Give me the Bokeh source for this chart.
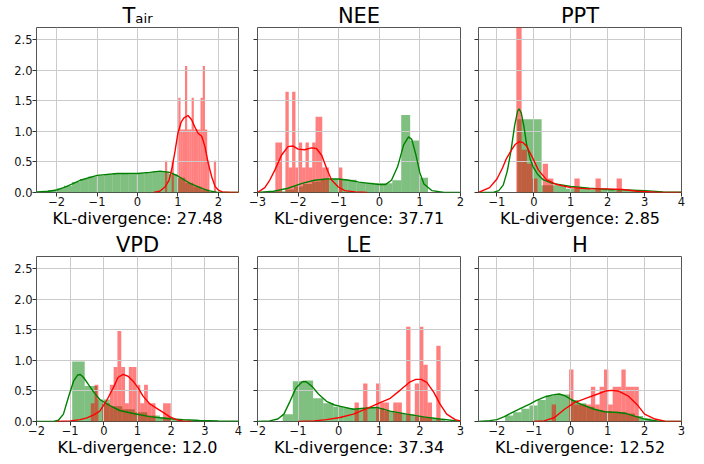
import numpy as np
from bokeh.plotting import figure
from bokeh.layouts import column, row
from bokeh.models import Range1d, FixedTicker
from bokeh.embed import file_html
from bokeh.resources import INLINE

# ------------------------------------------------------------------ data
panel_titles = ["T\u2090\u1d62\u1d63", "NEE", "PPT", "VPD", "LE", "H"]
kl_values = ["27.48", "37.71", "2.85", "12.0", "37.34", "12.52"]

y_max = 2.7
ytick_values = [0.0, 0.5, 1.0, 1.5, 2.0, 2.5]
ytick_labels = ["0.0", "0.5", "1.0", "1.5", "2.0", "2.5"]

# x ranges and ticks
tair_xrange = (-2.5, 2.5)
tair_xticks = [-2, -1, 0, 1, 2]
tair_xlabels = ["\u22122", "\u22121", "0", "1", "2"]
nee_xrange = (-3.0, 2.0)
nee_xticks = [-3, -2, -1, 0, 1, 2]
nee_xlabels = ["\u22123", "\u22122", "\u22121", "0", "1", "2"]
ppt_xrange = (-1.5, 4.0)
ppt_xticks = [-1, 0, 1, 2, 3, 4]
ppt_xlabels = ["\u22121", "0", "1", "2", "3", "4"]
vpd_xrange = (-2.0, 4.0)
vpd_xticks = [-2, -1, 0, 1, 2, 3, 4]
vpd_xlabels = ["\u22122", "\u22121", "0", "1", "2", "3", "4"]
le_xrange = (-2.0, 3.0)
le_xticks = [-2, -1, 0, 1, 2, 3]
le_xlabels = ["\u22122", "\u22121", "0", "1", "2", "3"]
h_xrange = (-2.5, 3.0)
h_xticks = [-2, -1, 0, 1, 2, 3]
h_xlabels = ["\u22122", "\u22121", "0", "1", "2", "3"]

# --- T_air
tair_green_start, tair_green_width = -2.42, 0.2
tair_green_h = [0.02, 0.04, 0.07, 0.11, 0.17, 0.22, 0.26, 0.28, 0.29, 0.31, 0.31,
                0.30, 0.31, 0.33, 0.35, 0.34, 0.30, 0.24, 0.16, 0.10, 0.05]
tair_green_kde_x = [-2.5, -2.2, -2.0, -1.75, -1.42, -1.0, -0.5, 0.0, 0.3, 0.56, 0.8,
                    1.0, 1.3, 1.55, 1.75, 1.96, 2.2, 2.5]
tair_green_kde_y = [0.01, 0.02, 0.04, 0.10, 0.20, 0.28, 0.31, 0.31, 0.33, 0.35, 0.33,
                    0.27, 0.15, 0.08, 0.03, 0.005, 0.0, 0.0]
tair_red_start, tair_red_width = 0.68, 0.055
tair_red_h = [0.52, 0, 0, 0.52, 0, 0, 1.55, 1.03, 1.03, 2.07, 1.03, 1.03, 1.55, 1.03,
              1.03, 1.03, 1.55, 2.07, 1.03, 0.52, 0, 0, 0.52]
tair_red_kde_x = [0.4, 0.55, 0.68, 0.78, 0.86, 0.93, 1.0, 1.08, 1.15, 1.25, 1.34, 1.42,
                  1.5, 1.59, 1.67, 1.75, 1.84, 1.92, 2.0, 2.1, 2.3, 2.5]
tair_red_kde_y = [0.0, 0.02, 0.09, 0.2, 0.42, 0.68, 0.97, 1.15, 1.22, 1.26, 1.19, 1.07,
                  0.97, 0.92, 0.75, 0.48, 0.25, 0.1, 0.04, 0.01, 0.0, 0.0]

# --- NEE
nee_green_start, nee_green_width = -2.54, 0.22
nee_green_h = [0.02, 0.05, 0.10, 0.14, 0.18, 0.21, 0.22, 0.22, 0.21, 0.16, 0.16, 0.15,
               0.15, 0.20, 1.27, 0.85, 0.24]
nee_green_kde_x = [-3.0, -2.6, -2.25, -1.9, -1.6, -1.3, -1.0, -0.75, -0.5, -0.25, 0.0,
                   0.15, 0.3, 0.45, 0.6, 0.72, 0.8, 0.9, 1.0, 1.1, 1.3, 1.6, 2.0]
nee_green_kde_y = [0.0, 0.02, 0.07, 0.15, 0.2, 0.22, 0.22, 0.2, 0.17, 0.15, 0.13,
                   0.13, 0.2, 0.42, 0.78, 0.91, 0.87, 0.62, 0.32, 0.14, 0.03, 0.0, 0.0]
nee_red_start, nee_red_width = -2.56, 0.0825
nee_red_h = [0.82, 0.82, 0, 1.65, 0.41, 1.65, 0.41, 0.82, 0.41, 0.82, 0.41, 0.82, 1.24,
             1.24, 0.41, 0.41, 0, 0, 0, 0.41]
nee_red_kde_x = [-3.0, -2.82, -2.7, -2.57, -2.41, -2.25, -2.12, -2.0, -1.84, -1.67,
                 -1.55, -1.42, -1.3, -1.18, -1.01, -0.85, -0.6, -0.3]
nee_red_kde_y = [0.0, 0.08, 0.2, 0.37, 0.61, 0.75, 0.76, 0.71, 0.7, 0.73, 0.72, 0.61,
                 0.4, 0.21, 0.09, 0.03, 0.01, 0.0]

# --- PPT
ppt_green_start, ppt_green_width = -0.45, 0.66
ppt_green_h = [1.2, 0.12, 0.06, 0.04, 0.03, 0.01, 0.01]
ppt_green_kde_x = [-1.5, -1.1, -0.95, -0.83, -0.72, -0.62, -0.52, -0.44, -0.4, -0.34,
                   -0.27, -0.2, -0.1, -0.02, 0.1, 0.25, 0.5, 1.0, 1.5, 2.0, 2.5, 3.0,
                   3.5, 4.0]
ppt_green_kde_y = [0.0, 0.0, 0.03, 0.12, 0.35, 0.68, 1.1, 1.33, 1.37, 1.3, 1.08, 0.8,
                   0.55, 0.42, 0.3, 0.21, 0.15, 0.1, 0.07, 0.05, 0.04, 0.03, 0.01, 0.005]
ppt_red_start, ppt_red_width = -0.475, 0.143
ppt_red_h = [4.2, 0.7, 0.47, 0.23, 0, 0.47, 0.23, 0, 0, 0, 0, 0.23, 0, 0, 0, 0.23, 0,
             0, 0, 0.23]
ppt_red_kde_x = [-1.5, -1.2, -1.0, -0.85, -0.74, -0.6, -0.5, -0.4, -0.3, -0.2, -0.06,
                 0.12, 0.34, 0.62, 1.0, 1.5, 2.0, 2.4, 2.8, 3.3, 4.0]
ppt_red_kde_y = [0.0, 0.08, 0.22, 0.4, 0.56, 0.7, 0.79, 0.83, 0.82, 0.76, 0.6, 0.37,
                 0.21, 0.13, 0.08, 0.06, 0.06, 0.05, 0.02, 0.005, 0.0]

# --- VPD
vpd_green_start, vpd_green_width = -0.94, 0.372
vpd_green_h = [0.98, 0.58, 0.36, 0.25, 0.2, 0.15, 0.1, 0.07, 0.04, 0.03, 0.02]
vpd_green_kde_x = [-2.0, -1.5, -1.35, -1.2, -1.05, -0.9, -0.78, -0.7, -0.6, -0.45,
                   -0.3, -0.12, 0.18, 0.47, 0.87, 1.36, 1.86, 2.35, 2.84, 3.4, 4.0]
vpd_green_kde_y = [0.0, 0.0, 0.02, 0.12, 0.4, 0.66, 0.76, 0.77, 0.72, 0.6, 0.48, 0.36,
                   0.26, 0.18, 0.13, 0.08, 0.05, 0.03, 0.016, 0.008, 0.003]
vpd_red_start, vpd_red_width = -0.5, 0.113
vpd_red_h = [0, 0.3, 0.6, 0, 0.3, 0.3, 0.6, 0.89, 1.48, 0.89, 0.3, 0.89, 0.89, 0.6,
             0.3, 0.6, 0.3, 0.3, 0, 0, 0.3, 0.3]
vpd_red_kde_x = [-1.4, -1.0, -0.7, -0.5, -0.3, -0.12, 0.08, 0.28, 0.42, 0.57, 0.72,
                 0.87, 1.02, 1.16, 1.36, 1.56, 1.76, 1.95, 2.15, 2.35, 2.6]
vpd_red_kde_y = [0.0, 0.01, 0.03, 0.06, 0.11, 0.17, 0.34, 0.55, 0.72, 0.77, 0.74, 0.66,
                 0.55, 0.42, 0.29, 0.22, 0.15, 0.08, 0.03, 0.005, 0.0]

# --- LE
le_green_start, le_green_width = -1.38, 0.25
le_green_h = [0.12, 0.66, 0.67, 0.38, 0.3, 0.24, 0.22, 0.2, 0.22, 0.22, 0.17, 0.14,
              0.12, 0.08, 0.06, 0.04]
le_green_kde_x = [-2.0, -1.7, -1.5, -1.35, -1.2, -1.05, -0.9, -0.8, -0.65, -0.5, -0.3,
                  -0.1, 0.1, 0.36, 0.69, 0.94, 1.27, 1.68, 2.09, 2.5, 2.91, 3.0]
le_green_kde_y = [0.0, 0.01, 0.04, 0.12, 0.33, 0.55, 0.65, 0.65, 0.57, 0.45, 0.33,
                  0.27, 0.24, 0.2, 0.22, 0.23, 0.17, 0.12, 0.076, 0.04, 0.01, 0.01]
le_red_start, le_red_width = 0.39, 0.106
le_red_h = [0.31, 0, 0.62, 0, 0, 0.62, 0.31, 0.31, 0, 0.31, 0.31, 0, 1.55, 0, 0.62,
            1.55, 0.93, 0.31, 0, 1.24]
le_red_kde_x = [-1.0, -0.6, -0.3, 0.03, 0.36, 0.69, 1.02, 1.27, 1.51, 1.76, 1.9, 2.03,
                2.17, 2.34, 2.5, 2.66, 2.87, 3.0]
le_red_kde_y = [0.0, 0.01, 0.03, 0.065, 0.12, 0.21, 0.31, 0.38, 0.51, 0.65, 0.69, 0.69,
                0.64, 0.48, 0.28, 0.12, 0.03, 0.01]

# --- H
h_green_start, h_green_width = -1.78, 0.22
h_green_h = [0.1, 0.15, 0.21, 0.26, 0.35, 0.42, 0.44, 0.44, 0.35, 0.3, 0.24, 0.19,
             0.17, 0.16, 0.15, 0.13, 0.09, 0.05]
h_green_kde_x = [-2.5, -2.2, -2.0, -1.8, -1.58, -1.3, -1.1, -0.94, -0.67, -0.45, -0.31,
                 -0.15, 0.01, 0.28, 0.64, 0.92, 1.28, 1.5, 1.73, 2.0, 2.37, 2.7, 3.0]
h_green_kde_y = [0.0, 0.015, 0.03, 0.08, 0.15, 0.23, 0.29, 0.34, 0.41, 0.44, 0.45,
                 0.42, 0.36, 0.28, 0.2, 0.16, 0.147, 0.13, 0.087, 0.04, 0.005, 0.0, 0.0]
h_red_start, h_red_width = -0.517, 0.118
h_red_h = [0.28, 0, 0, 0, 0.85, 0.28, 0.28, 0.28, 0.28, 0.57, 0.28, 0.57, 0.85, 0.28,
           0.57, 0.57, 0.85, 0.57, 0.57, 0.57]
h_red_kde_x = [-1.0, -0.72, -0.44, -0.17, 0.1, 0.46, 0.73, 0.95, 1.1, 1.28, 1.55, 1.82,
               2.0, 2.28, 2.55, 3.0]
h_red_kde_y = [0.0, 0.01, 0.065, 0.2, 0.31, 0.39, 0.45, 0.5, 0.51, 0.5, 0.42, 0.26,
               0.12, 0.04, 0.005, 0.0]

# ------------------------------------------------------------------ assembly
panels = [
    (tair_xrange, tair_xticks, tair_xlabels,
     (tair_green_start, tair_green_width, tair_green_h), (tair_green_kde_x, tair_green_kde_y),
     (tair_red_start, tair_red_width, tair_red_h), (tair_red_kde_x, tair_red_kde_y)),
    (nee_xrange, nee_xticks, nee_xlabels,
     (nee_green_start, nee_green_width, nee_green_h), (nee_green_kde_x, nee_green_kde_y),
     (nee_red_start, nee_red_width, nee_red_h), (nee_red_kde_x, nee_red_kde_y)),
    (ppt_xrange, ppt_xticks, ppt_xlabels,
     (ppt_green_start, ppt_green_width, ppt_green_h), (ppt_green_kde_x, ppt_green_kde_y),
     (ppt_red_start, ppt_red_width, ppt_red_h), (ppt_red_kde_x, ppt_red_kde_y)),
    (vpd_xrange, vpd_xticks, vpd_xlabels,
     (vpd_green_start, vpd_green_width, vpd_green_h), (vpd_green_kde_x, vpd_green_kde_y),
     (vpd_red_start, vpd_red_width, vpd_red_h), (vpd_red_kde_x, vpd_red_kde_y)),
    (le_xrange, le_xticks, le_xlabels,
     (le_green_start, le_green_width, le_green_h), (le_green_kde_x, le_green_kde_y),
     (le_red_start, le_red_width, le_red_h), (le_red_kde_x, le_red_kde_y)),
    (h_xrange, h_xticks, h_xlabels,
     (h_green_start, h_green_width, h_green_h), (h_green_kde_x, h_green_kde_y),
     (h_red_start, h_red_width, h_red_h), (h_red_kde_x, h_red_kde_y)),
]

FONT = "DejaVu Sans"
GREEN = "#008000"
RED = "#ff0000"

col_width = [245, 221, 225]
col_lb = [36, 12, 12]
col_rb = [7, 6, 10]
row_height = [230, 231]
row_tb = [27, 25]
row_bb = [37, 40]


def add_hist(p, spec, color):
    start, width, heights = spec
    h = np.asarray(heights, dtype=float)
    left = start + width * np.arange(len(h))
    keep = h > 0
    r = p.quad(left=left[keep], right=left[keep] + width, bottom=0, top=h[keep],
               fill_color=color, fill_alpha=0.5, line_color=None)
    r.level = "image"


figs = []
for i, (xr, xt, xl, gh, gk, rh, rk) in enumerate(panels):
    c, rw = i % 3, i // 3
    p = figure(width=col_width[c], height=row_height[rw],
               x_range=Range1d(*xr), y_range=Range1d(0, y_max),
               output_backend="svg", toolbar_location=None, tools="",
               min_border_left=col_lb[c], min_border_right=col_rb[c],
               min_border_top=row_tb[rw], min_border_bottom=row_bb[rw])
    p.background_fill_color = "white"
    p.border_fill_color = "white"
    p.outline_line_color = "#555555"
    p.outline_line_width = 1

    p.title.text = panel_titles[i]
    p.title.align = "center"
    p.title.text_font = FONT
    p.title.text_font_size = "21px"
    p.title.text_font_style = "normal"
    p.title.text_color = "#000000"
    p.title.standoff = 0

    p.xaxis.ticker = FixedTicker(ticks=xt)
    p.yaxis.ticker = FixedTicker(ticks=ytick_values)
    p.xgrid.ticker = FixedTicker(ticks=xt)
    p.ygrid.ticker = FixedTicker(ticks=ytick_values)
    p.xaxis.major_label_overrides = {v: s for v, s in zip(xt, xl)}
    if c == 0:
        p.yaxis.major_label_overrides = {v: s for v, s in zip(ytick_values, ytick_labels)}
    else:
        p.yaxis.major_label_overrides = {v: "" for v in ytick_values}
    for ax in (p.xaxis[0], p.yaxis[0]):
        ax.axis_line_color = None
        ax.major_tick_line_color = "#333333"
        ax.major_tick_out = 4
        ax.major_tick_in = 0
        ax.minor_tick_line_color = None
        ax.major_label_standoff = 0
        ax.major_label_text_font = FONT
        ax.major_label_text_font_size = "11.5px"
        ax.major_label_text_color = "#111111"
    p.xaxis.axis_label = "KL-divergence: " + kl_values[i]
    p.xaxis.axis_label_text_font = FONT
    p.xaxis.axis_label_text_font_size = "16px"
    p.xaxis.axis_label_text_font_style = "normal"
    p.xaxis.axis_label_text_color = "#000000"
    p.xaxis.axis_label_standoff = 0
    for g in (p.xgrid[0], p.ygrid[0]):
        g.grid_line_color = "#cbcbcb"
        g.grid_line_width = 1

    add_hist(p, gh, GREEN)
    p.line(gk[0], gk[1], line_color=GREEN, line_width=1.4)
    add_hist(p, rh, RED)
    p.line(rk[0], rk[1], line_color=RED, line_width=1.4)
    figs.append(p)

layout = column(row(*figs[:3]), row(*figs[3:]))
open("out.html", "w").write(file_html(layout, INLINE))
